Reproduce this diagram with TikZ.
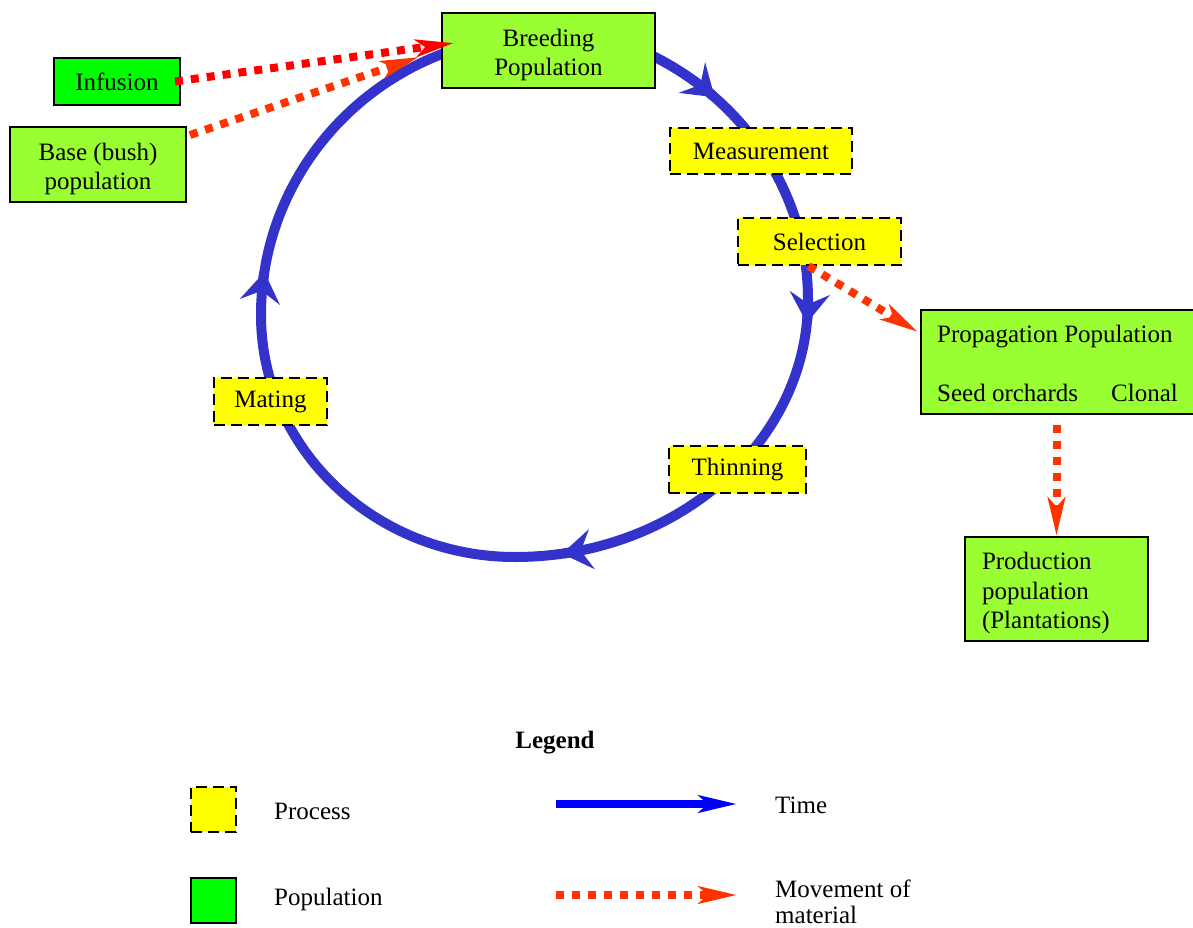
\documentclass[tikz,border=0pt]{standalone}
\usepackage{fontspec}
\setmainfont{Liberation Serif}
\usetikzlibrary{arrows.meta,calc}
\definecolor{ringblue}{HTML}{3333CC}
\definecolor{popgreen}{HTML}{99FF33}
\definecolor{infgreen}{HTML}{00FF00}
\definecolor{procyellow}{HTML}{FFFF00}
\definecolor{matred}{HTML}{FF3300}
\definecolor{infred}{HTML}{FF0000}
\definecolor{timeblue}{HTML}{0000FF}
\newcommand{\mytopstrut}{\rule{0pt}{26pt}}
\begin{document}
\begin{tikzpicture}[x=1pt,y=-1pt,
  every node/.style={font=\fontsize{25}{29.5}\selectfont, inner sep=0pt},
  popbox/.style={draw=black, line width=2pt, fill=popgreen, align=center},
  procbox/.style={draw=black, line width=2pt, fill=procyellow, dash pattern=on 11pt off 6pt},
  ring/.style={draw=ringblue, line width=10pt},
  ringtip/.style={draw=ringblue, line width=10pt, -{Stealth[length=30pt,width=40pt,inset=11pt]}},
  matline/.style={draw=matred, line width=8pt, dash pattern=on 8pt off 8pt, -{Stealth[length=38pt,width=17pt,inset=9pt]}},
  timeline/.style={draw=timeblue, line width=8pt, -{Stealth[length=38pt,width=17pt,inset=9pt]}},
]
\useasboundingbox[fill=white] (0,0) rectangle (1193,928);

% the cycle (time)
\draw[ring] (520,25) arc[start angle=-90, end angle=0, x radius=288, y radius=275]
                     arc[start angle=0, end angle=90, x radius=293, y radius=257]
                     arc[start angle=90, end angle=180, x radius=254, y radius=242]
                     arc[start angle=180, end angle=270, x radius=284, y radius=280];
\coordinate (r1a) at (713.2,96.0); \coordinate (r1b) at (714.7,97.3);
\coordinate (r2a) at (807.0,321.0); \coordinate (r2b) at (806.8,323);
\coordinate (r3a) at (564.0,553.4); \coordinate (r3b) at (562,553.7);
\coordinate (r4a) at (264.1,274.0); \coordinate (r4b) at (264.4,272);
\draw[ringtip] (r1a) -- (r1b);
\draw[ringtip] (r2a) -- (r2b);
\draw[ringtip] (r3a) -- (r3b);
\draw[ringtip] (r4a) -- (r4b);

% populations
\node[popbox, minimum width=213pt, minimum height=75pt] (bp) at (548.5,50.5) {\mytopstrut Breeding\\Population};
\node[popbox, fill=infgreen, minimum width=126pt, minimum height=47pt] (inf) at (117,81.5) {Infusion};
\node[popbox, minimum width=176pt, minimum height=75pt] (base) at (98,164.5) {\mytopstrut Base (bush)\\population};
\node[popbox, anchor=north west, minimum width=290pt, minimum height=104pt] (prop) at (920,309) {};
\node[anchor=base west] (proptitle) at (937,342) {Propagation Population};
\node[anchor=base west] (propseed) at (937,401) {Seed orchards};
\node[anchor=base west] (propclonal) at (1111,401) {Clonal};
\node[popbox, align=left, text width=149pt, inner xsep=17pt, minimum height=104pt] (prod) at (1056.5,589) {\mytopstrut Production\\population\\(Plantations)};

% processes
\node[procbox, minimum width=182pt, minimum height=46pt] (meas) at (761,151) {Measurement};
\node[procbox, minimum width=163pt, minimum height=47pt] (sel) at (819.5,241.5) {Selection};
\node[procbox, minimum width=113pt, minimum height=47pt] (mat) at (270.5,401.5) {Mating};
\node[procbox, minimum width=137pt, minimum height=47pt] (thin) at (737.5,469.5) {Thinning};

% movement of material
\draw[matline, draw=infred] ($(inf.east)+(-6,0)$) -- ($(bp.north west)+(13,31)$);
\draw[matline] ($(base.north east)+(3,9)$) -- ($(bp.north west)+(-22,45)$);
\draw[matline] ($(sel.south)+(-11,0)$) -- ($(prop.north west)+(-2,23)$);
\draw[matline] ($(prop.south -| prod.north)+(0,10)$) -- (prod.north);

% legend
\node[font=\bfseries\fontsize{25}{29.5}\selectfont] (legtitle) at (555,743) {Legend};
\node[procbox, minimum size=45pt] (legproc) at (213.5,809) {};
\node[anchor=base west] (legproctext) at (274,819) {Process};
\node[popbox, fill=infgreen, minimum size=45pt] (legpop) at (213.5,900) {};
\node[anchor=base west] (legpoptext) at (274,905) {Population};
\coordinate (ta) at (556,804); \coordinate (tb) at (737,804);
\draw[timeline] (ta) -- (tb);
\node[anchor=base west] (timetext) at (775,813) {Time};
\coordinate (ma) at (556,895); \coordinate (mb) at (737,895);
\draw[matline] (ma) -- (mb);
\node[anchor=base west] (movtext1) at (775,897) {Movement of};
\node[anchor=base west] (movtext2) at (775,923) {material};
\end{tikzpicture}
\end{document}
